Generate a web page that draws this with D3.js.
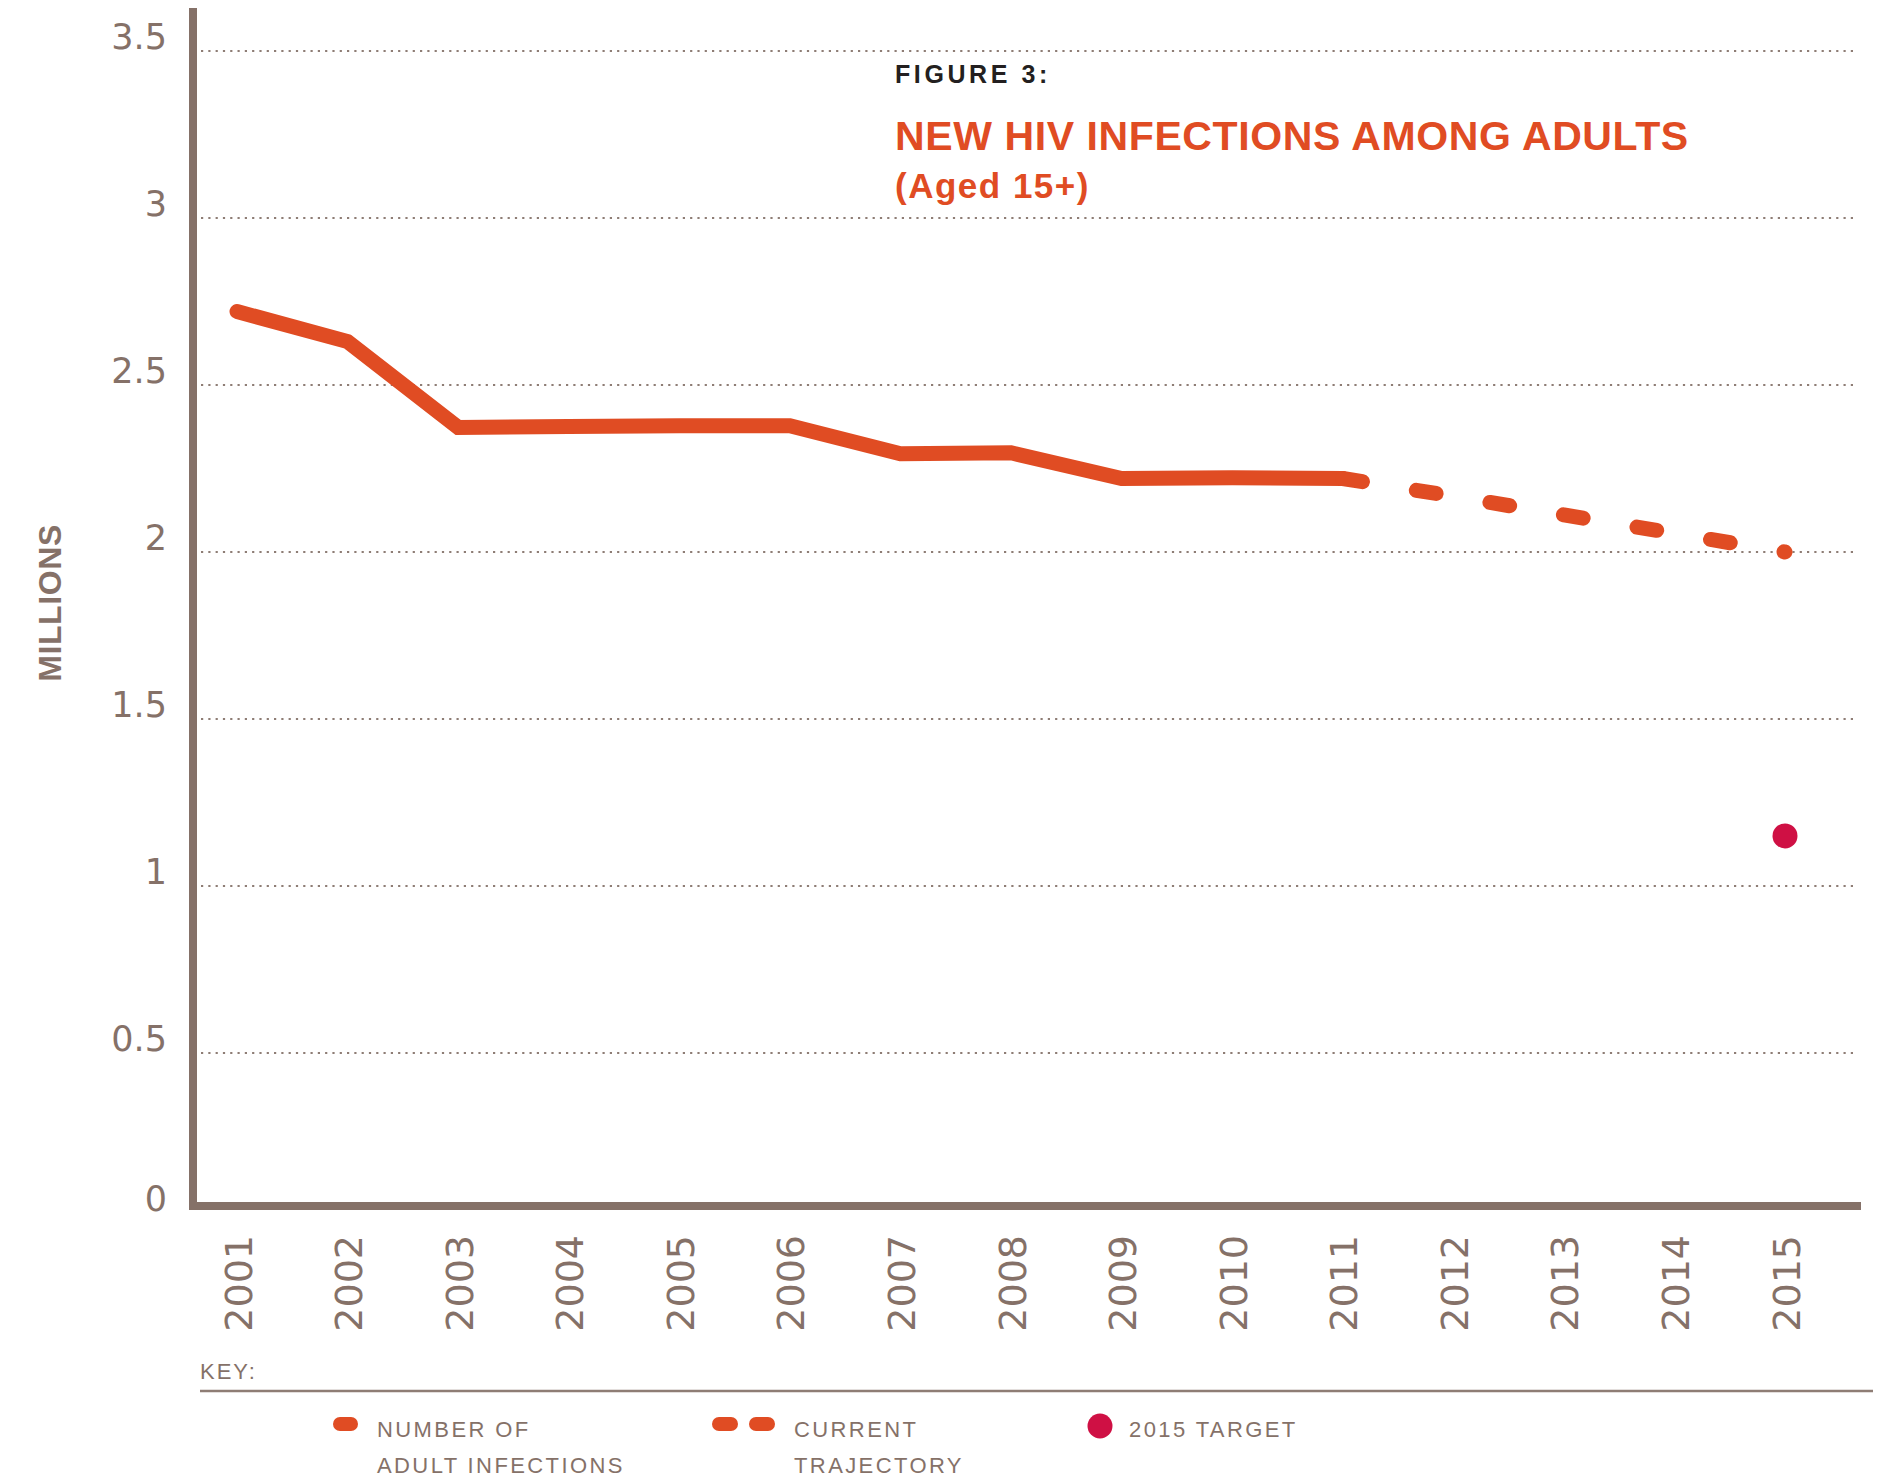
<!DOCTYPE html>
<html>
<head>
<meta charset="utf-8">
<script src="https://cdn.jsdelivr.net/npm/d3@7"></script>
<style>
  html, body { margin: 0; padding: 0; background: #ffffff; }
  svg { display: block; }
</style>
</head>
<body>
<svg id="chart" width="1883" height="1477"></svg>
<script>
// ---------------- DATA ----------------
const years = [2001, 2002, 2003, 2004, 2005, 2006, 2007, 2008, 2009, 2010, 2011];
const adultInfections = [2.72, 2.63, 2.373, 2.376, 2.378, 2.378, 2.294, 2.297, 2.22, 2.222, 2.22];
const trajectoryYears = [2011, 2012, 2013, 2014, 2015];
const trajectoryValues = [2.22, 2.167, 2.111, 2.056, 2.0];
const targetYears = [2015];
const targetValues = [1.15];
const xTickYears = [2001, 2002, 2003, 2004, 2005, 2006, 2007, 2008, 2009, 2010, 2011, 2012, 2013, 2014, 2015];
const yTickValues = [0, 0.5, 1, 1.5, 2, 2.5, 3, 3.5];
const yTickLabels = ["0", "0.5", "1", "1.5", "2", "2.5", "3", "3.5"];
const figureLabel = "FIGURE 3:";
const titleLine1 = "NEW HIV INFECTIONS AMONG ADULTS";
const titleLine2 = "(Aged 15+)";
const yAxisTitle = "MILLIONS";
const keyTitle = "KEY:";
const legendLabels = [["NUMBER OF", "ADULT INFECTIONS"], ["CURRENT", "TRAJECTORY"], ["2015 TARGET"]];

// ---------------- STYLE ----------------
const ORANGE = "#e04c23";
const TARGET = "#cf1044";
const BROWN = "#857168";
const GRID = "#8e7d75";
const DARK = "#231f20";

const svg = d3.select("#chart");

const x = d3.scaleLinear().domain([2001, 2015]).range([237, 1785]);
const y = d3.scaleLinear().domain([0, 3.5]).range([1220, 51]);

const plotLeft = 193, plotRight = 1861;
const xAxisY = 1206;

// gridlines (dotted)
svg.append("g").selectAll("line")
  .data(yTickValues.filter(v => v > 0))
  .join("line")
  .attr("x1", 201).attr("x2", 1854)
  .attr("y1", d => y(d)).attr("y2", d => y(d))
  .attr("stroke", GRID)
  .attr("stroke-width", 2.2)
  .attr("stroke-dasharray", "2.2 5.1");

// y tick labels
const yAxisG = svg.append("g")
  .attr("transform", "translate(167,0)")
  .call(d3.axisLeft(y).tickValues(yTickValues)
    .tickFormat((d, i) => yTickLabels[i]).tickSize(0).tickPadding(0));
yAxisG.select(".domain").remove();
yAxisG.selectAll("text")
  .attr("x", 0)
  .attr("dy", d => Math.min(y(d) - 3, xAxisY + 4) - y(d))
  .attr("text-anchor", "end")
  .style("font-family", "'DejaVu Sans', sans-serif")
  .style("font-size", "35px")
  .style("fill", BROWN);

// x tick labels (rotated)
const xAxisG = svg.append("g")
  .attr("transform", "translate(0,1235)")
  .call(d3.axisBottom(x).tickValues(xTickYears).tickFormat(d3.format("d")).tickSize(0).tickPadding(0));
xAxisG.select(".domain").remove();
xAxisG.selectAll("text")
  .attr("transform", "rotate(-90)")
  .attr("x", 0)
  .attr("y", 14)
  .attr("dy", 0)
  .attr("text-anchor", "end")
  .style("font-family", "'DejaVu Sans', sans-serif")
  .style("font-size", "38px")
  .style("fill", BROWN);

// axis lines
svg.append("line")
  .attr("x1", plotLeft).attr("x2", plotLeft)
  .attr("y1", 8).attr("y2", xAxisY + 4)
  .attr("stroke", BROWN).attr("stroke-width", 8);
svg.append("line")
  .attr("x1", plotLeft - 4).attr("x2", plotRight)
  .attr("y1", xAxisY).attr("y2", xAxisY)
  .attr("stroke", BROWN).attr("stroke-width", 8);

// y axis title
svg.append("text")
  .attr("transform", "translate(61,603) rotate(-90)")
  .attr("text-anchor", "middle")
  .style("font-family", "'Liberation Sans', Arial, sans-serif")
  .style("font-weight", "bold")
  .style("font-size", "32px")
  .style("letter-spacing", "0.6px")
  .style("fill", BROWN)
  .text(yAxisTitle);

// solid line
const line = d3.line().x(d => x(d[0])).y(d => y(d[1]));
svg.append("path")
  .datum(years.map((yr, i) => [yr, adultInfections[i]]))
  .attr("d", line)
  .attr("fill", "none")
  .attr("stroke", ORANGE)
  .attr("stroke-width", 15)
  .attr("stroke-linejoin", "miter")
  .attr("stroke-linecap", "round");

// dashed trajectory
const traj = svg.append("path")
  .datum(trajectoryYears.map((yr, i) => [yr, trajectoryValues[i]]))
  .attr("d", line)
  .attr("fill", "none")
  .attr("stroke", ORANGE)
  .attr("stroke-width", 15)
  .attr("stroke-linecap", "round");
const L = traj.node().getTotalLength();
const period = (L - 1) / 6;
traj.attr("stroke-dasharray", `20 ${period - 20}`);

// target
svg.append("g").selectAll("circle")
  .data(targetYears.map((yr, i) => [yr, targetValues[i]]))
  .join("circle")
  .attr("cx", d => x(d[0])).attr("cy", d => y(d[1]))
  .attr("r", 12.5)
  .attr("fill", TARGET);

// titles
const titleFont = "'Liberation Sans', Arial, sans-serif";
svg.append("text").attr("x", 895).attr("y", 83)
  .style("font-family", titleFont).style("font-weight", "bold")
  .style("font-size", "25px").style("letter-spacing", "3.6px")
  .style("fill", DARK).text(figureLabel);
svg.append("text").attr("x", 895).attr("y", 150)
  .style("font-family", titleFont).style("font-weight", "bold")
  .style("font-size", "41px").style("letter-spacing", "0.6px")
  .style("fill", ORANGE).text(titleLine1);
svg.append("text").attr("x", 895).attr("y", 198)
  .style("font-family", titleFont).style("font-weight", "bold")
  .style("font-size", "35px").style("letter-spacing", "1.5px")
  .style("fill", ORANGE).text(titleLine2);

// legend
const legFont = "'Liberation Sans', Arial, sans-serif";
svg.append("text").attr("x", 200).attr("y", 1379)
  .style("font-family", legFont).style("font-size", "22px")
  .style("letter-spacing", "2px").style("fill", BROWN).text(keyTitle);
svg.append("line").attr("x1", 200).attr("x2", 1873)
  .attr("y1", 1391).attr("y2", 1391)
  .attr("stroke", GRID).attr("stroke-width", 2.5);

// swatches
svg.append("rect").attr("x", 333).attr("y", 1417).attr("width", 25).attr("height", 14)
  .attr("rx", 7).attr("fill", ORANGE);
svg.append("rect").attr("x", 712).attr("y", 1417).attr("width", 26).attr("height", 14)
  .attr("rx", 7).attr("fill", ORANGE);
svg.append("rect").attr("x", 749).attr("y", 1417).attr("width", 26).attr("height", 14)
  .attr("rx", 7).attr("fill", ORANGE);
svg.append("circle").attr("cx", 1100).attr("cy", 1426).attr("r", 12.5).attr("fill", TARGET);

const legTextX = [377, 794, 1129];
legendLabels.forEach((lines, i) => {
  const t = svg.append("text")
    .style("font-family", legFont).style("font-size", "22px")
    .style("letter-spacing", "2.4px").style("fill", BROWN);
  lines.forEach((s, j) => {
    t.append("tspan").attr("x", legTextX[i]).attr("y", 1437 + j * 36).text(s);
  });
});
</script>
</body>
</html>
